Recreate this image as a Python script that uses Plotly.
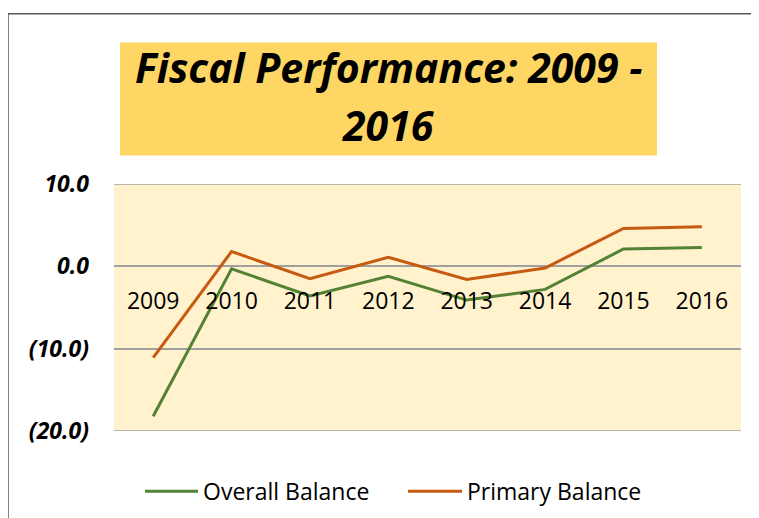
import plotly.graph_objects as go

# --- data ---
years = ["2009", "2010", "2011", "2012", "2013", "2014", "2015", "2016"]
overall_balance = [-18.2, -0.3, -3.6, -1.2, -4.1, -2.8, 2.1, 2.3]
primary_balance = [-11.1, 1.8, -1.5, 1.1, -1.6, -0.2, 4.6, 4.8]
y_ticks = [10, 0, -10, -20]
y_tick_text = ["10.0", "0.0", "(10.0)", "(20.0)"]
y_range = [-20, 10]

# --- geometry (pixels of the 759x518 window; the page body adds an 8px margin) ---
OFF = 8
W, H = 759 - OFF, 518 - OFF
L, R, T, B = 114 - OFF, 741 - OFF, 183.5 - OFF, 430.7 - OFF


def px(x):
    return (x - OFF - L) / (R - L)


def py(y):
    return (B - (y - OFF)) / (B - T)


GREEN = "#548235"
ORANGE = "#C55A11"
GRID = "#A0A0A0"
FONT = "Open Sans"

fig = go.Figure()
fig.add_trace(go.Scatter(x=years, y=overall_balance, mode="lines", name="Overall Balance",
                         line=dict(color=GREEN, width=3), showlegend=False))
fig.add_trace(go.Scatter(x=years, y=primary_balance, mode="lines", name="Primary Balance",
                         line=dict(color=ORANGE, width=3), showlegend=False))

# plotly skips gridlines sitting on the range edges -> draw those two by hand
for v in (max(y_ticks), min(y_ticks)):
    fig.add_shape(type="line", xref="paper", yref="y", x0=0, x1=1, y0=v, y1=v,
                  line=dict(color=GRID, width=1.5), layer="below")

# outer chart border (left + top visible)
fig.add_shape(type="rect", xref="paper", yref="paper",
              x0=px(8), x1=px(775), y0=py(530), y1=py(13),
              line=dict(color="#595959", width=1.5), fillcolor="rgba(0,0,0,0)", layer="below")

# title box
fig.add_shape(type="rect", xref="paper", yref="paper",
              x0=px(120), x1=px(657), y0=py(155), y1=py(42),
              line=dict(width=0), fillcolor="#FDD663", layer="below")
for txt, yc in [("Fiscal Performance: 2009 -", 66), ("2016", 124)]:
    fig.add_annotation(text=txt, xref="paper", yref="paper", x=px(388.5), y=py(yc),
                       xanchor="center", yanchor="middle", showarrow=False,
                       font=dict(family=FONT, size=41, color="black", weight="bold", style="italic"))

# hand-drawn legend (line sample + label)
for name, color, x0, x1 in [("Overall Balance", GREEN, 145, 198), ("Primary Balance", ORANGE, 408, 462)]:
    fig.add_shape(type="line", xref="paper", yref="paper", x0=px(x0), x1=px(x1),
                  y0=py(491), y1=py(491), line=dict(color=color, width=3))
    fig.add_annotation(text=name, xref="paper", yref="paper", x=px(x1 + 3), y=py(491),
                       xanchor="left", yanchor="middle", showarrow=False,
                       font=dict(family=FONT, size=23, color="black"))

# category axis sits on the zero line
zero_pos = (0 - y_range[0]) / (y_range[1] - y_range[0])

fig.update_layout(
    width=W, height=H,
    margin=dict(l=L, r=W - R, t=T, b=H - B),
    paper_bgcolor="white",
    plot_bgcolor="#FFF2CC",
    font=dict(family=FONT, color="black"),
    showlegend=False,
    xaxis=dict(type="category", range=[-0.5, len(years) - 0.5], showgrid=False, zeroline=False,
               showline=False, ticks="", anchor="free", position=zero_pos,
               ticklabelstandoff=19, tickfont=dict(family=FONT, size=23, color="black")),
    yaxis=dict(range=y_range, tickvals=y_ticks, ticktext=y_tick_text, showgrid=True,
               gridcolor=GRID, gridwidth=1.5, zeroline=False, showline=False, ticks="",
               ticklabelstandoff=24,
               tickfont=dict(family=FONT, size=23, color="black", weight="bold", style="italic")),
)

fig.write_html("out.html")
